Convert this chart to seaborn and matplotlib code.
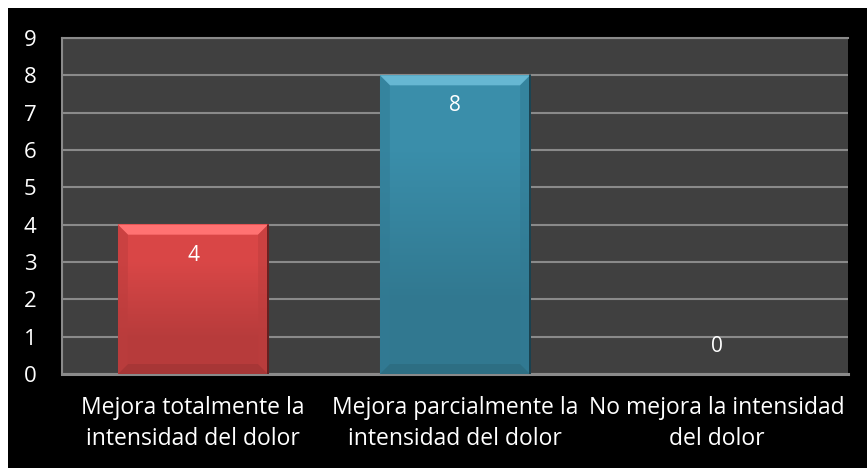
import matplotlib
matplotlib.use("Agg")
import matplotlib.pyplot as plt
import seaborn as sns
import numpy as np
from matplotlib.patches import Polygon, Rectangle
import matplotlib.colors as mcolors

# Data
categories = [
    "Mejora totalmente la\nintensidad del dolor",
    "Mejora parcialmente la\nintensidad del dolor",
    "No mejora la intensidad\ndel dolor",
]
values = [4, 8, 0]
bar_colors = ["#D14444", "#3889A4", "#8CB84A"]
y_ticks = list(range(0, 10))

sns.set_theme(style="dark")
plt.rcParams["font.family"] = ["Open Sans", "DejaVu Sans"]

fig = plt.figure(figsize=(8.67, 4.68), dpi=100, facecolor="black")
W, H = 867, 468
ax = fig.add_axes([62 / W, (H - 374) / H, (848 - 62) / W, (374 - 38) / H])
ax.set_facecolor("#404040")

sns.barplot(x=categories, y=values, hue=categories, palette=bar_colors,
            width=0.573, saturation=1, legend=False, ax=ax, zorder=3,
            edgecolor="none")

ax.set_ylim(0, 9)
ax.set_yticks(y_ticks)
ax.set_yticklabels([str(t) for t in y_ticks])
ax.grid(axis="y", color="#8A8A8A", linewidth=1.5, zorder=0)
ax.grid(axis="x", visible=False)
ax.set_axisbelow(True)
for side in ["left", "top", "right", "bottom"]:
    ax.spines[side].set_visible(True)
    ax.spines[side].set_color("#8A8A8A")
    ax.spines[side].set_linewidth(1.5)
ax.spines["bottom"].set_linewidth(2.2)
ax.spines["right"].set_visible(False)

ax.tick_params(axis="y", length=0, pad=23, labelcolor="white", labelsize=16)
ax.tick_params(axis="x", length=0, pad=16, labelcolor="white", labelsize=16.5)
for lbl in ax.get_xticklabels():
    lbl.set_linespacing(1.38)
for lbl in ax.get_yticklabels():
    lbl.set_horizontalalignment("center")
ax.set_xlabel("")
ax.set_ylabel("")

# Bevel shading on each bar
fig.canvas.draw()
inv = ax.transData.inverted()
px_x = abs(inv.transform((10, 0))[0] - inv.transform((0, 0))[0])
px_y = abs(inv.transform((0, 10))[1] - inv.transform((0, 0))[1])
for patch, color in zip(ax.patches, bar_colors):
    x0, w, h = patch.get_x(), patch.get_width(), patch.get_height()
    if h <= 0:
        continue
    x1 = x0 + w
    bx, by = px_x, min(px_y, h / 2)
    rgb = np.array(mcolors.to_rgb(color))
    light = np.clip(rgb + 0.18, 0, 1)
    dark = rgb * 0.8
    side = rgb * 0.9
    # vertical gradient body
    grad = np.clip(np.array([[rgb * 1.04], [rgb * 0.88]]), 0, 1)
    ax.imshow(grad, extent=(x0, x1, 0, h), aspect="auto",
              interpolation="bilinear", zorder=3.2)
    top = Polygon([(x0, h), (x1, h), (x1 - bx, h - by), (x0 + bx, h - by)],
                  closed=True, facecolor=light, edgecolor="none", zorder=3.5)
    bottom = Polygon([(x0, 0), (x1, 0), (x1 - bx, by), (x0 + bx, by)],
                     closed=True, facecolor=dark, edgecolor="none", zorder=3.5)
    left = Polygon([(x0, 0), (x0 + bx, by), (x0 + bx, h - by), (x0, h)],
                   closed=True, facecolor=side, edgecolor="none", zorder=3.5, alpha=0.5)
    right = Polygon([(x1, 0), (x1 - bx, by), (x1 - bx, h - by), (x1, h)],
                    closed=True, facecolor=side, edgecolor="none", zorder=3.5, alpha=0.5)
    for p in (top, bottom, left, right):
        ax.add_patch(p)
    ax.plot([x1, x1], [0, h], color=rgb * 0.4, lw=1.2, zorder=3.6)
ax.set_xlim(-0.5, 2.5)
ax.set_ylim(0, 9)

# Value labels
for i, v in enumerate(values):
    off = -22 if v > 0 else 20
    ax.annotate(str(v), xy=(i, v), xytext=(0, off), textcoords="offset points",
                ha="center", va="center", color="white", fontsize=15, zorder=5)

# White frame strips along the top and left edges
fig.patches.append(Rectangle((0, 1 - 8 / H), 1, 8 / H, transform=fig.transFigure,
                             facecolor="white", edgecolor="none", zorder=10))
fig.patches.append(Rectangle((0, 0), 8 / W, 1, transform=fig.transFigure,
                             facecolor="white", edgecolor="none", zorder=10))

fig.savefig("out.png", dpi=100, facecolor="black")
